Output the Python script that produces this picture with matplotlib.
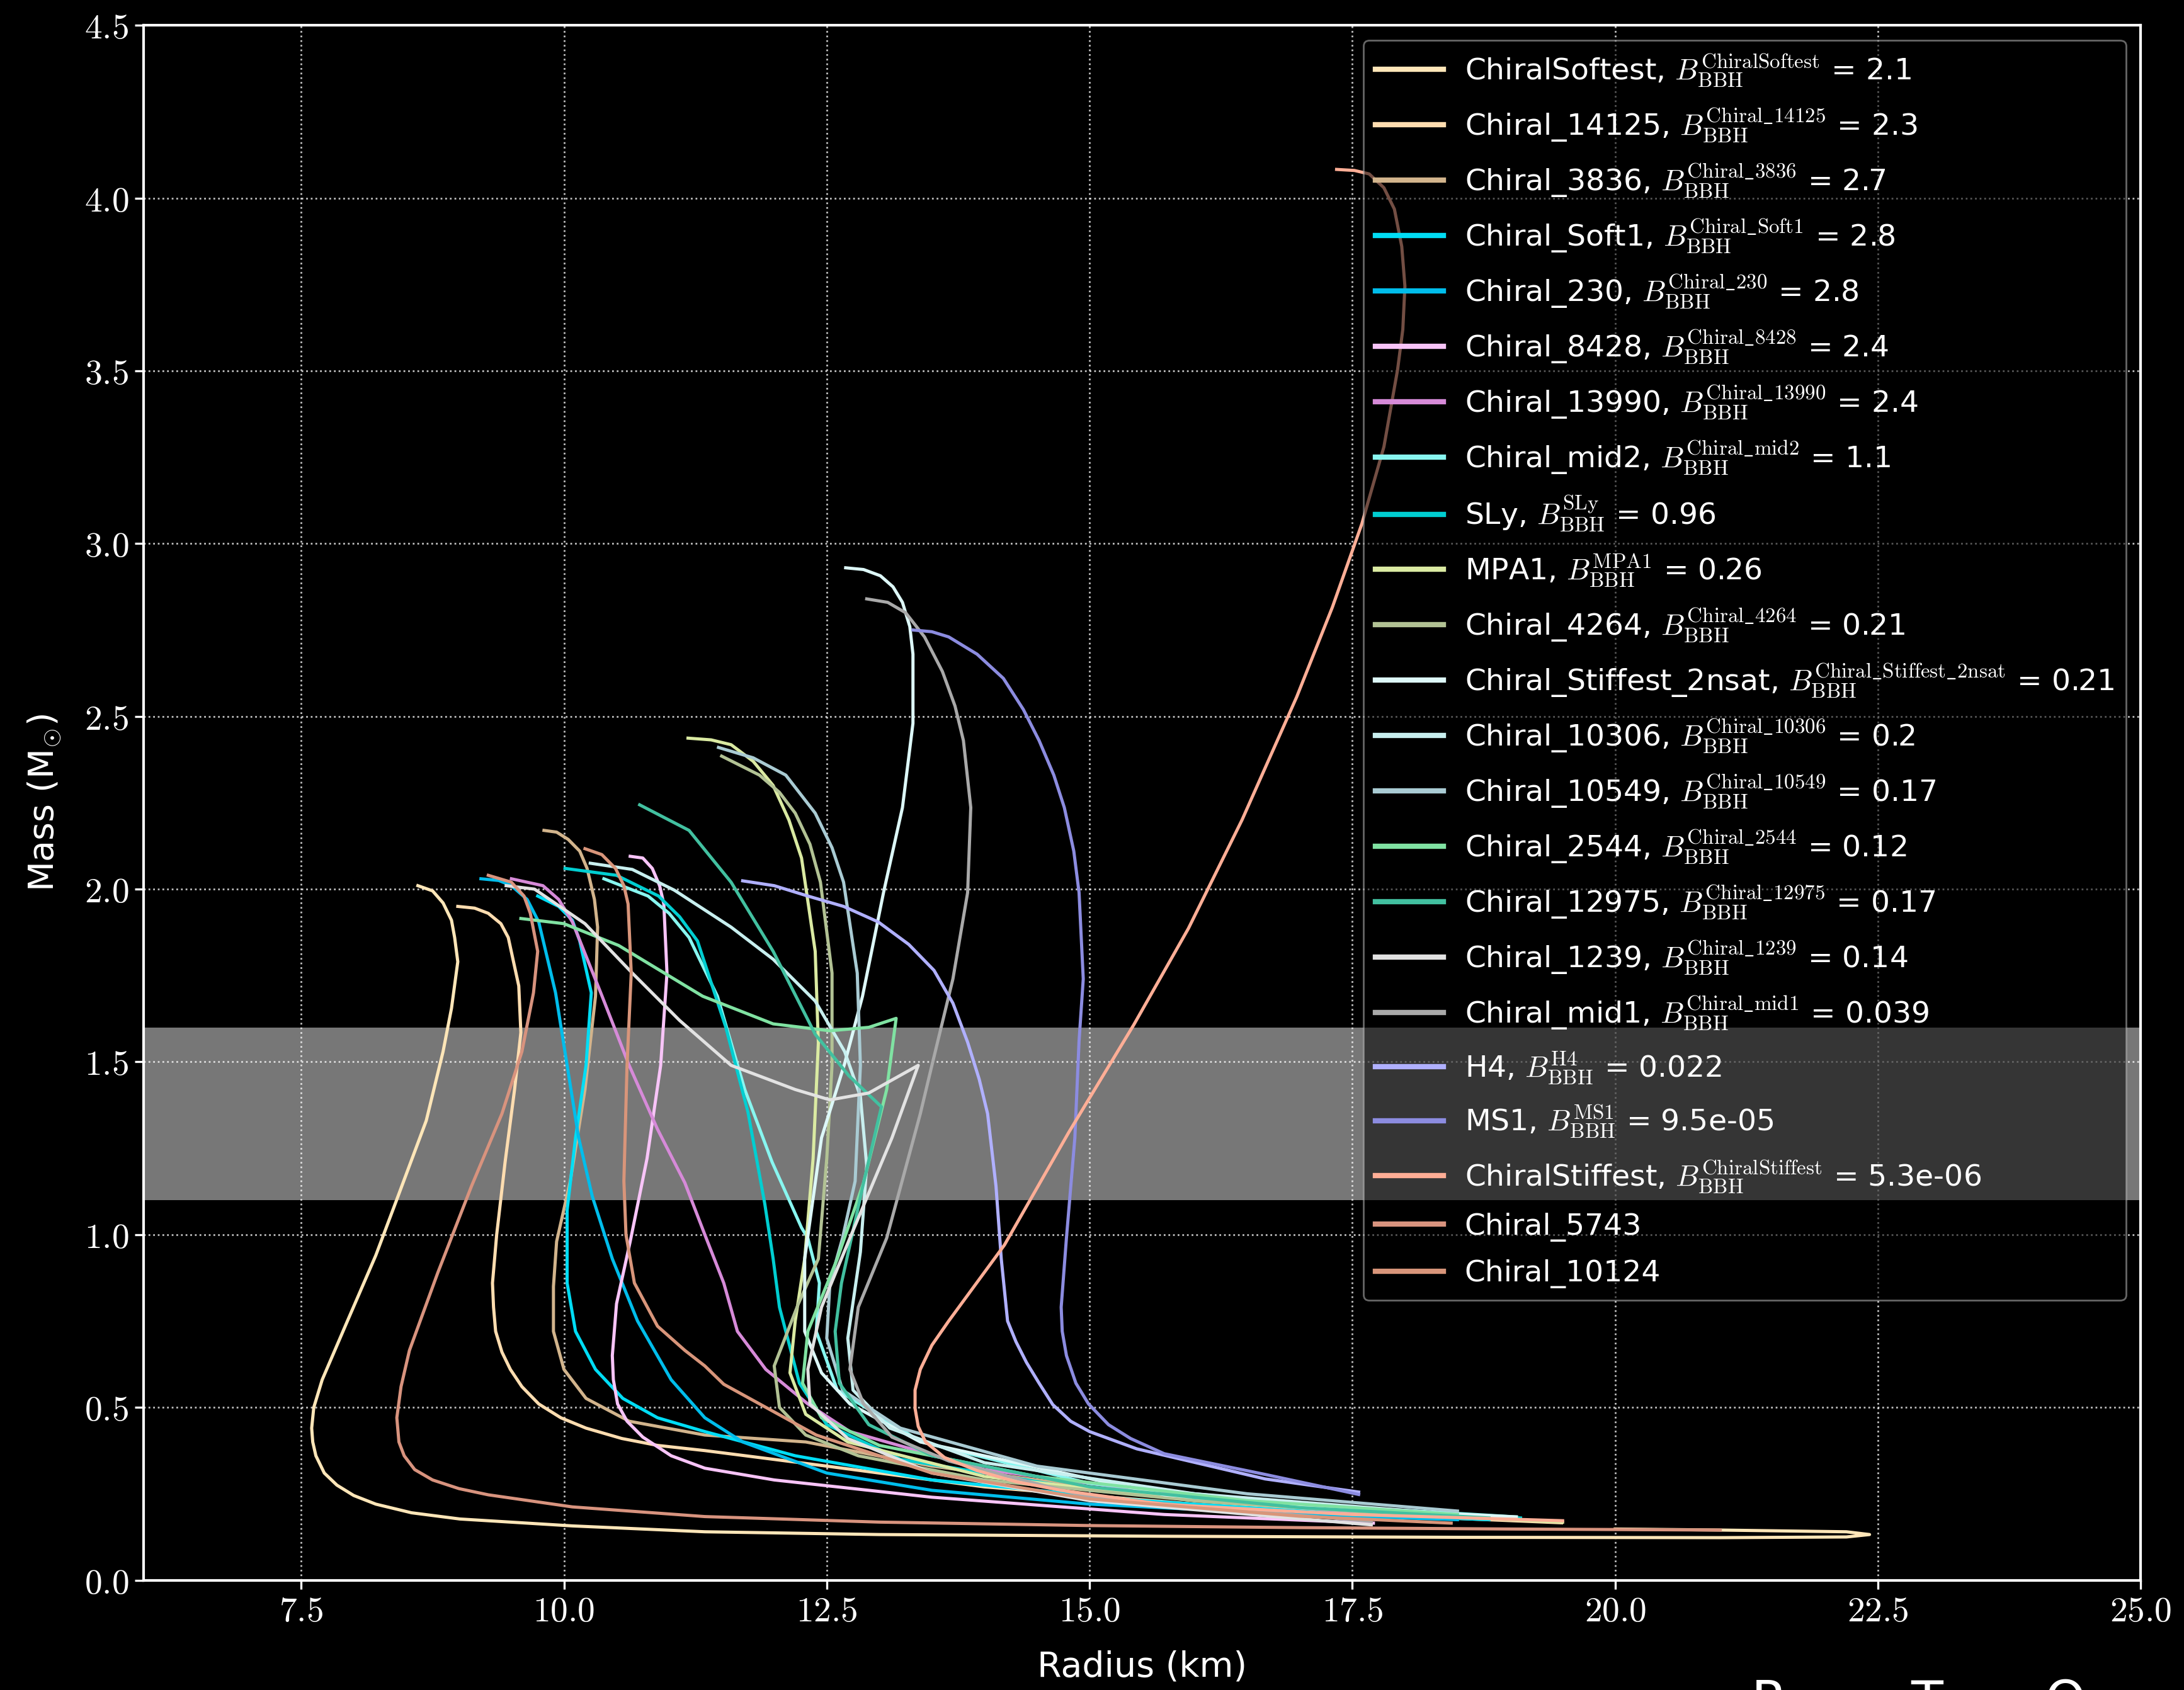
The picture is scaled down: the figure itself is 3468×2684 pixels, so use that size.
import matplotlib
matplotlib.use("Agg")
import matplotlib.pyplot as plt
from matplotlib.ticker import FuncFormatter

# mass-radius curves: radius (km), mass (Msun)
softest_r = [8.61, 8.75, 8.85, 8.93, 8.96, 8.99, 8.93, 8.85, 8.69, 8.42, 8.21, 7.94, 7.70, 7.62, 7.60, 7.61,
             7.64, 7.72, 7.84, 8.0, 8.21, 8.55, 9.01, 10.08, 11.34, 13.0, 15.7, 18.5, 21.0, 22.2, 22.42, 22.2,
             21.0, 20.0]
softest_m = [2.01, 1.995, 1.96, 1.91, 1.86, 1.79, 1.655, 1.53, 1.33, 1.11, 0.94, 0.75, 0.58, 0.50, 0.44, 0.40,
             0.36, 0.31, 0.275, 0.245, 0.22, 0.195, 0.177, 0.157, 0.140, 0.132, 0.127, 0.124, 0.123, 0.125,
             0.132, 0.140, 0.145, 0.148]

c14125_r = [8.99, 9.15, 9.28, 9.40, 9.47, 9.57, 9.59, 9.53, 9.44, 9.36, 9.32, 9.33, 9.35, 9.41, 9.49, 9.60,
            9.76, 9.97, 10.21, 10.55, 10.89, 11.34, 12.5, 14.0, 16.0, 18.0, 19.49]
c14125_m = [1.95, 1.945, 1.93, 1.90, 1.86, 1.72, 1.585, 1.42, 1.21, 1.00, 0.86, 0.79, 0.72, 0.66, 0.61, 0.56,
            0.51, 0.47, 0.44, 0.41, 0.39, 0.375, 0.33, 0.27, 0.22, 0.185, 0.166]

c3836_r = [9.81, 9.93, 10.04, 10.15, 10.22, 10.29, 10.32, 10.30, 10.20, 10.06, 9.93, 9.90, 9.90, 10.0, 10.21,
           10.62, 11.34, 12.3, 13.5, 15.5, 17.5, 19.0]
c3836_m = [2.17, 2.165, 2.144, 2.11, 2.06, 1.97, 1.89, 1.69, 1.42, 1.155, 0.98, 0.85, 0.72, 0.61, 0.526,
           0.46, 0.42, 0.40, 0.33, 0.25, 0.20, 0.175]

soft1_r = [9.75, 9.95, 10.08, 10.15, 10.26, 10.21, 10.11, 10.03, 10.03, 10.11, 10.30, 10.56, 10.89, 11.34,
           12.2, 13.5, 15.5, 17.5, 18.8]
soft1_m = [1.98, 1.95, 1.91, 1.85, 1.70, 1.49, 1.28, 1.07, 0.86, 0.72, 0.61, 0.526, 0.47, 0.43,
           0.36, 0.29, 0.23, 0.19, 0.175]

c230_r = [9.21, 9.38, 9.50, 9.65, 9.76, 9.92, 10.03, 10.14, 10.27, 10.46, 10.70, 11.02, 11.34, 11.7, 12.5,
          13.5, 15.0, 17.0, 18.5]
c230_m = [2.03, 2.025, 2.01, 1.97, 1.905, 1.70, 1.49, 1.28, 1.11, 0.93, 0.75, 0.58, 0.47, 0.40, 0.31,
          0.26, 0.22, 0.19, 0.175]

c8428_r = [10.63, 10.75, 10.84, 10.91, 10.95, 10.98, 10.92, 10.79, 10.63, 10.50, 10.46, 10.47, 10.51, 10.60,
           10.75, 11.02, 11.34, 12.0, 13.5, 15.71, 17.7]
c8428_m = [2.095, 2.09, 2.06, 2.01, 1.957, 1.757, 1.49, 1.22, 0.98, 0.80, 0.65, 0.58, 0.51, 0.46,
           0.414, 0.36, 0.324, 0.29, 0.24, 0.19, 0.165]

c13990_r = [9.50, 9.80, 9.95, 10.08, 10.35, 10.62, 10.89, 11.15, 11.34, 11.52, 11.65, 11.92, 12.32, 12.72,
            14.0, 16.0, 17.7]
c13990_m = [2.03, 2.01, 1.97, 1.905, 1.70, 1.49, 1.305, 1.15, 1.00, 0.86, 0.72, 0.61, 0.51, 0.43,
            0.32, 0.24, 0.19]

mid2_r = [10.38, 10.8, 11.0, 11.19, 11.46, 11.72, 11.98, 12.26, 12.32, 12.43, 12.40, 12.6, 13.4, 15.0,
          17.0, 19.06]
mid2_m = [2.03, 1.98, 1.93, 1.86, 1.69, 1.42, 1.21, 1.02, 0.99, 0.86, 0.72, 0.55, 0.40, 0.28,
          0.22, 0.183]

sly_r = [10.01, 10.5, 10.9, 11.1, 11.27, 11.54, 11.75, 11.91, 11.99, 12.05, 12.24, 12.5, 13.2, 15.0,
         17.0, 19.1]
sly_m = [2.06, 2.04, 1.98, 1.92, 1.85, 1.60, 1.355, 1.09, 0.93, 0.79, 0.57, 0.45, 0.35, 0.26,
         0.21, 0.18]

mpa1_r = [11.18, 11.40, 11.59, 11.80, 11.99, 12.14, 12.26, 12.39, 12.42, 12.37, 12.29, 12.2, 12.15, 12.3,
          12.7, 14.0, 16.0, 18.0, 19.5]
mpa1_m = [2.437, 2.432, 2.418, 2.37, 2.30, 2.20, 2.09, 1.82, 1.555, 1.22, 0.93, 0.75, 0.60, 0.48,
          0.40, 0.30, 0.23, 0.19, 0.168]

c4264_r = [11.50, 11.86, 12.05, 12.20, 12.34, 12.44, 12.55, 12.55, 12.50, 12.42, 12.23, 12.0, 12.05, 12.3,
           12.8, 14.0, 16.0, 18.0]
c4264_m = [2.385, 2.33, 2.28, 2.22, 2.13, 2.02, 1.757, 1.49, 1.22, 0.93, 0.80, 0.62, 0.50, 0.42,
           0.36, 0.29, 0.23, 0.19]

stiff2n_r = [12.68, 12.85, 13.01, 13.13, 13.22, 13.29, 13.32, 13.32, 13.22, 13.04, 12.84, 12.67, 12.45,
             12.29, 12.29, 12.45, 12.72, 13.39, 15.71, 17.5, 19.06]
stiff2n_m = [2.93, 2.925, 2.907, 2.875, 2.83, 2.76, 2.68, 2.48, 2.236, 1.99, 1.69, 1.495, 1.28,
             0.93, 0.72, 0.60, 0.51, 0.40, 0.247, 0.205, 0.183]

c10306_r = [10.25, 10.65, 11.05, 11.59, 11.99, 12.39, 12.67, 12.82, 12.88, 12.82, 12.7, 12.75, 13.1, 14.0,
            16.0, 18.5]
c10306_m = [2.075, 2.057, 1.997, 1.89, 1.797, 1.676, 1.53, 1.40, 1.20, 0.95, 0.70, 0.55, 0.44, 0.34,
            0.25, 0.19]

c10549_r = [11.47, 11.8, 12.11, 12.39, 12.55, 12.66, 12.79, 12.82, 12.77, 12.65, 12.53, 12.50, 12.65, 13.2,
            14.5, 16.5, 18.5]
c10549_m = [2.41, 2.38, 2.33, 2.22, 2.12, 2.02, 1.757, 1.49, 1.155, 0.99, 0.86, 0.70, 0.55, 0.44,
            0.33, 0.25, 0.20]

c2544_r = [9.59, 10.0, 10.52, 11.32, 11.99, 12.53, 12.9, 13.16, 13.07, 12.85, 12.6, 12.32, 12.27, 12.45,
           13.0, 14.5, 16.5, 18.5]
c2544_m = [1.915, 1.90, 1.837, 1.69, 1.61, 1.59, 1.60, 1.626, 1.42, 1.15, 0.93, 0.72, 0.57, 0.47,
           0.39, 0.30, 0.23, 0.19]

c12975_r = [10.72, 11.19, 11.59, 11.99, 12.39, 12.71, 13.02, 12.85, 12.64, 12.58, 12.62, 12.9, 13.5, 15.0,
            17.0, 18.8]
c12975_m = [2.244, 2.17, 2.02, 1.82, 1.58, 1.46, 1.37, 1.15, 0.86, 0.72, 0.57, 0.45, 0.36, 0.27,
            0.21, 0.18]

c1239_r = [9.45, 9.72, 10.2, 10.65, 11.1, 11.59, 12.2, 12.53, 12.9, 13.37, 13.12, 12.72, 12.45, 12.32, 12.34,
           12.7, 13.5, 15.0, 17.68]
c1239_m = [2.01, 2.00, 1.90, 1.757, 1.62, 1.49, 1.42, 1.39, 1.41, 1.49, 1.28, 0.99, 0.79, 0.61, 0.51,
           0.41, 0.31, 0.23, 0.16]

mid1_r = [12.88, 13.08, 13.25, 13.43, 13.60, 13.72, 13.80, 13.87, 13.84, 13.70, 13.49, 13.39, 13.07, 12.80,
          12.72, 12.85, 13.12, 13.66, 15.0, 17.68]
mid1_m = [2.84, 2.83, 2.80, 2.73, 2.63, 2.53, 2.43, 2.236, 1.99, 1.74, 1.477, 1.35, 0.99, 0.79,
          0.61, 0.51, 0.414, 0.345, 0.24, 0.17]

h4_r = [11.70, 12.0, 12.32, 12.66, 12.99, 13.28, 13.52, 13.70, 13.84, 13.95, 14.03, 14.11, 14.16, 14.22,
        14.30, 14.40, 14.52, 14.65, 14.82, 15.0, 15.45, 16.67, 17.56]
h4_m = [2.024, 2.01, 1.98, 1.95, 1.905, 1.84, 1.765, 1.67, 1.557, 1.45, 1.35, 1.14, 0.93, 0.75,
        0.69, 0.63, 0.57, 0.508, 0.46, 0.43, 0.38, 0.293, 0.255]

ms1_r = [13.32, 13.50, 13.66, 13.93, 14.18, 14.37, 14.52, 14.66, 14.76, 14.85, 14.90, 14.94, 14.90, 14.86,
         14.78, 14.73, 14.74, 14.78, 14.87, 14.99, 15.18, 15.39, 15.71, 16.67, 17.56]
ms1_m = [2.75, 2.745, 2.73, 2.68, 2.61, 2.52, 2.43, 2.33, 2.236, 2.11, 1.99, 1.74, 1.56, 1.28,
         0.99, 0.79, 0.72, 0.65, 0.57, 0.51, 0.45, 0.41, 0.366, 0.306, 0.248]

stiffest_r = [17.35, 17.52, 17.66, 17.80, 17.90, 17.97, 18.0, 17.98, 17.93, 17.80, 17.59, 17.31, 16.97, 16.45,
              15.94, 15.42, 14.80, 14.19, 13.66, 13.50, 13.39, 13.34, 13.34, 13.37, 13.44, 13.62, 13.93,
              14.3, 14.73, 15.71, 17.5, 19.5]
stiffest_m = [4.083, 4.08, 4.07, 4.03, 3.968, 3.86, 3.745, 3.62, 3.503, 3.28, 3.057, 2.816, 2.556, 2.20,
              1.886, 1.607, 1.295, 0.97, 0.75, 0.68, 0.61, 0.55, 0.497, 0.445, 0.40, 0.355, 0.317,
              0.285, 0.26, 0.219, 0.19, 0.172]

c5743_r = [9.28, 9.50, 9.62, 9.68, 9.75, 9.71, 9.60, 9.41, 9.12, 8.80, 8.53, 8.45, 8.41, 8.43, 8.48, 8.58,
           8.75, 9.0, 9.28, 10.08, 11.34, 13.0, 15.0, 17.0, 19.0, 21.0]
c5743_m = [2.04, 2.02, 1.98, 1.93, 1.82, 1.70, 1.53, 1.35, 1.14, 0.89, 0.665, 0.56, 0.47, 0.40, 0.36, 0.32,
           0.29, 0.265, 0.247, 0.212, 0.184, 0.168, 0.158, 0.152, 0.148, 0.145]

c10124_r = [10.20, 10.36, 10.49, 10.57, 10.61, 10.64, 10.60, 10.57, 10.59, 10.67, 10.89, 11.15, 11.34, 11.52,
            12.4, 13.5, 15.0, 17.0, 18.44]
c10124_m = [2.117, 2.10, 2.06, 2.01, 1.957, 1.757, 1.49, 1.155, 1.00, 0.86, 0.735, 0.665, 0.62, 0.567,
            0.42, 0.31, 0.235, 0.185, 0.165]

eos_names = ["ChiralSoftest", "Chiral_14125", "Chiral_3836", "Chiral_Soft1", "Chiral_230", "Chiral_8428",
             "Chiral_13990", "Chiral_mid2", "SLy", "MPA1", "Chiral_4264", "Chiral_Stiffest_2nsat",
             "Chiral_10306", "Chiral_10549", "Chiral_2544", "Chiral_12975", "Chiral_1239", "Chiral_mid1",
             "H4", "MS1", "ChiralStiffest", "Chiral_5743", "Chiral_10124"]
bayes = ["2.1", "2.3", "2.7", "2.8", "2.8", "2.4", "2.4", "1.1", "0.96", "0.26", "0.21", "0.21", "0.2",
         "0.17", "0.12", "0.17", "0.14", "0.039", "0.022", "9.5e-05", "5.3e-06", None, None]
colors = ["#FFE6B8", "#FFDDB0", "#D2B48C", "#00DDF5", "#00BDEB", "#F8C4F8", "#D68AD8", "#88F6F0", "#00CED1",
          "#DAEAA2", "#B2C294", "#DDF8F8", "#C8EFEF", "#A9CBD3", "#80E2A2", "#42C0A0", "#E2E2E2", "#A9A9A9",
          "#B0B0FF", "#8C8CE0", "#FFAE96", "#D8937E", "#D8957A"]

radii = [softest_r, c14125_r, c3836_r, soft1_r, c230_r, c8428_r, c13990_r, mid2_r, sly_r, mpa1_r, c4264_r,
         stiff2n_r, c10306_r, c10549_r, c2544_r, c12975_r, c1239_r, mid1_r, h4_r, ms1_r, stiffest_r,
         c5743_r, c10124_r]
masses = [softest_m, c14125_m, c3836_m, soft1_m, c230_m, c8428_m, c13990_m, mid2_m, sly_m, mpa1_m, c4264_m,
          stiff2n_m, c10306_m, c10549_m, c2544_m, c12975_m, c1239_m, mid1_m, h4_m, ms1_m, stiffest_m,
          c5743_m, c10124_m]

band = (1.1, 1.6)

plt.rcParams['mathtext.fontset'] = 'cm'
plt.rcParams['font.family'] = ['DejaVu Sans']

fig = plt.figure(figsize=(17.34, 13.42), dpi=200, facecolor='black')
ax = fig.add_axes([0.0657, 0.065, 0.9145, 0.920])
ax.set_facecolor('black')

ax.axhspan(band[0], band[1], color='white', alpha=0.47, lw=0, zorder=1)

for name, r, m, c, b in zip(eos_names, radii, masses, colors, bayes):
    if b is None:
        label = name
    else:
        tag = name.replace('_', r'\_')
        label = name + r", $B^{\mathrm{" + tag + r"}}_{\mathrm{BBH}}$ = " + b
    ax.plot(r, m, color=c, lw=1.8, label=label, zorder=3, solid_joinstyle='round')

ax.set_xlim(6, 25)
ax.set_ylim(0, 4.5)
ax.set_xticks([7.5, 10.0, 12.5, 15.0, 17.5, 20.0, 22.5, 25.0])
ax.set_yticks([0.0, 0.5, 1.0, 1.5, 2.0, 2.5, 3.0, 3.5, 4.0, 4.5])
fmt = FuncFormatter(lambda v, p: r"$%.1f$" % v)
ax.xaxis.set_major_formatter(fmt)
ax.yaxis.set_major_formatter(fmt)
ax.tick_params(colors='white', labelsize=20, length=5, width=1.2)
for s in ax.spines.values():
    s.set_color('white')
    s.set_linewidth(1.5)
ax.grid(True, color='white', linestyle=':', linewidth=1.0, alpha=0.75, zorder=2)

ax.set_xlabel("Radius (km)", color='white', fontsize=20, labelpad=12)
ax.set_ylabel(r"Mass (M$_{\odot}$)", color='white', fontsize=20, labelpad=12)

leg = ax.legend(loc='upper right', fontsize=17, facecolor='black', edgecolor='#BBBBBB', framealpha=0.55,
                labelcolor='white', handlelength=2.3, handletextpad=0.7, borderpad=0.4, labelspacing=0.6)
for h in leg.get_lines():
    h.set_linewidth(3.0)

# watermark fragment, cut off by the bottom edge as in the source image
for letter, xpos in zip(["R", "T", "O"], [0.802, 0.875, 0.936]):
    fig.text(xpos, 0.007, letter, color='white', fontsize=30, va='top', ha='left')

fig.savefig("out.png", dpi=200, facecolor='black')
